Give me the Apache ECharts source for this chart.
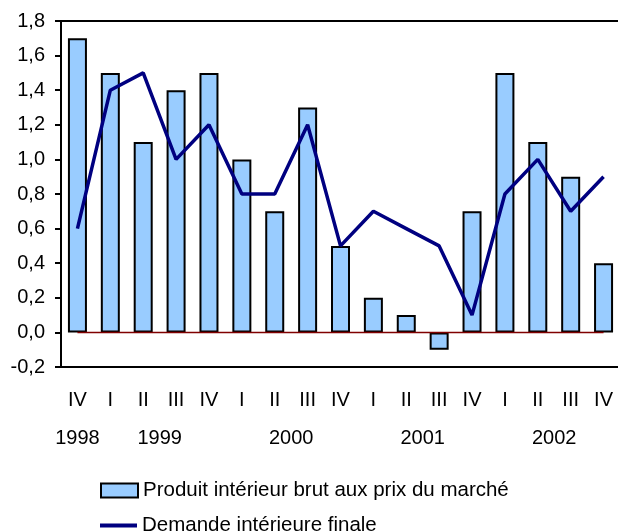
<!DOCTYPE html>
<html>
<head>
<meta charset="utf-8">
<script src="https://cdn.jsdelivr.net/npm/echarts@6/dist/echarts.min.js"></script>
<style>
  html, body { margin: 0; padding: 0; background: #fff; }
  #chart { width: 618px; height: 531px; }
</style>
</head>
<body>
<div id="chart"></div>
<script>
const quarters = ["IV", "I", "II", "III", "IV", "I", "II", "III", "IV", "I", "II", "III", "IV", "I", "II", "III", "IV"];
const pib = [1.7, 1.5, 1.1, 1.4, 1.5, 1.0, 0.7, 1.3, 0.5, 0.2, 0.1, -0.1, 0.7, 1.5, 1.1, 0.9, 0.4];
const demande = [0.6, 1.4, 1.5, 1.0, 1.2, 0.8, 0.8, 1.2, 0.5, 0.7, 0.6, 0.5, 0.1, 0.8, 1.0, 0.7, 0.9];
// years sit under the middle of their quarters (half-quarter steps)
const yearLabels = { 1: "1998", 6: "1999", 14: "2000", 22: "2001", 30: "2002" };
const yearSlots = Array.from({ length: quarters.length * 2 + 1 }, (_, i) => yearLabels[i] || "");
const zeroLine = quarters.map(() => 0);

const PIB_NAME = "Produit intérieur brut aux prix du marché";
const DEM_NAME = "Demande intérieure finale";

const fontFamily = "Liberation Sans, Arial, sans-serif";
const chart = echarts.init(document.getElementById("chart"));

const legendText = { fontFamily: fontFamily, fontSize: 20.5, color: "#000" };

chart.setOption({
    animation: false,
    backgroundColor: "#fff",
    textStyle: { fontFamily: fontFamily, color: "#000" },
    grid: {
        left: 61,
        top: 21,
        width: 559,
        height: 346,
        show: true,
        borderColor: "#000",
        borderWidth: 2,
        containLabel: false,
        outerBoundsMode: "none",
    },
    legend: [
        {
            left: 95,
            top: 475,
            itemWidth: 37,
            itemHeight: 14,
            textStyle: legendText,
            data: [{ name: PIB_NAME, icon: "rect" }],
        },
        {
            left: 95,
            top: 510,
            itemWidth: 37,
            itemHeight: 4,
            textStyle: legendText,
            data: [{ name: DEM_NAME, icon: "rect", itemStyle: { color: "#000080" } }],
        },
    ],
    xAxis: [
        {
            type: "category",
            data: quarters,
            position: "bottom",
            axisLine: { onZero: false, lineStyle: { color: "#000", width: 2 } },
            axisTick: { inside: true, length: 6, lineStyle: { color: "#000", width: 2 } },
            axisLabel: { interval: 0, margin: 23, fontSize: 20, color: "#000" },
            splitLine: { show: false },
        },
        {
            type: "category",
            data: yearSlots,
            position: "bottom",
            boundaryGap: false,
            gridIndex: 0,
            axisLine: { show: false },
            axisTick: { show: false },
            axisLabel: { interval: 0, margin: 61, fontSize: 20, color: "#000" },
            splitLine: { show: false },
        },
    ],
    yAxis: {
        type: "value",
        min: -0.2,
        max: 1.8,
        interval: 0.2,
        axisLine: { show: true, lineStyle: { color: "#000", width: 2 } },
        axisTick: { show: true, length: 6, lineStyle: { color: "#000", width: 2 } },
        axisLabel: {
            margin: 16,
            fontSize: 20,
            color: "#000",
            formatter: (v) => v.toFixed(1).replace(".", ","),
        },
        splitLine: { show: false },
    },
    series: [
        {
            name: PIB_NAME,
            type: "bar",
            data: pib,
            barWidth: 19,
            itemStyle: { color: "#99CCFF", borderColor: "#000", borderWidth: 2 },
            z: 2,
        },
        {
            name: "zero",
            type: "line",
            data: zeroLine,
            symbol: "none",
            silent: true,
            lineStyle: { color: "#800000", width: 1.5 },
            z: 3,
        },
        {
            name: DEM_NAME,
            type: "line",
            data: demande,
            symbol: "none",
            lineStyle: { color: "#000080", width: 3.5 },
            itemStyle: { color: "#000080" },
            z: 4,
        },
    ],
});
</script>
</body>
</html>
